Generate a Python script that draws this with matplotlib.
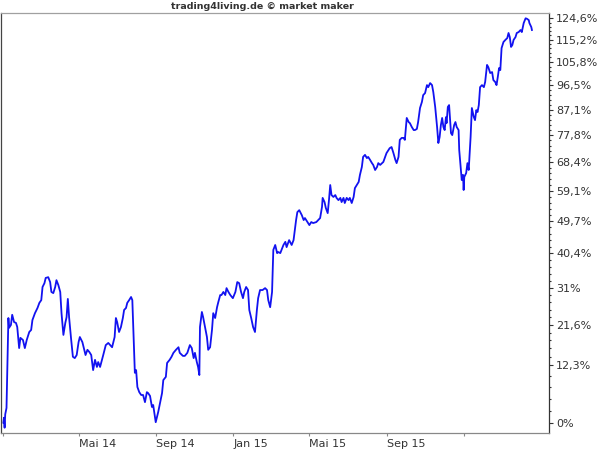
import numpy as np
import pandas as pd
import matplotlib
matplotlib.use('Agg')
import matplotlib.pyplot as plt
import matplotlib.ticker as mticker

# days since 2014-01-01 and performance in % relative to start
days = [
    1, 2, 3, 4, 6, 8, 9, 10, 13, 15,
    18, 21, 23, 26, 28, 32, 35, 38, 42, 45,
    47, 51, 55, 58, 61, 63, 66, 68, 72, 75,
    77, 80, 83, 85, 88, 91, 93, 96, 99, 101,
    103, 105, 108, 111, 114, 117, 120, 122, 126, 129,
    131, 134, 137, 140, 143, 146, 149, 151, 154, 157,
    159, 163, 167, 170, 173, 177, 179, 181, 184, 187,
    190, 192, 195, 197, 200, 203, 205, 207, 209, 211,
    213, 216, 219, 222, 225, 228, 230, 233, 236, 238,
    242, 246, 252, 254, 258, 260, 264, 267, 270, 274,
    278, 280, 285, 288, 292, 296, 299, 302, 304, 307,
    309, 311, 312, 315, 317, 320, 323, 325, 328, 331,
    333, 336, 339, 341, 344, 346, 349, 352, 354, 357,
    360, 364, 368, 371, 374, 377, 380, 382, 385, 388,
    390, 393, 396, 399, 402, 404, 407, 411, 415, 418,
    420, 423, 426, 428, 431, 434, 436, 439, 444, 447,
    449, 453, 457, 460, 462, 464, 466, 469, 473, 476,
    478, 482, 485, 488, 491, 496, 499, 502, 505, 506,
    509, 511, 514, 516, 518, 520, 523, 526, 528, 531,
    534, 536, 539, 541, 544, 547, 549, 552, 555, 557,
    560, 563, 565, 568, 570, 573, 576, 578, 581, 584,
    586, 589, 592, 594, 597, 602, 607, 612, 615, 618,
    621, 623, 626, 628, 631, 634, 636, 639, 642, 644,
    647, 650, 652, 655, 657, 660, 663, 665, 668, 671,
    673, 676, 679, 681, 684, 687, 689, 691, 693, 695,
    697, 699, 701, 702, 704, 706, 709, 711, 714, 716,
    718, 721, 722, 725, 726, 728, 729, 730, 733, 735,
    737, 740, 742, 745, 747, 749, 751, 753, 755, 758,
    761, 763, 766, 768, 771, 774, 776, 779, 781, 783,
    785, 787, 789, 792, 795, 798, 800, 802, 804, 806,
    808, 811, 813, 816, 819, 821, 824, 827, 829, 832,
    833, 836, 837,
]
values = [
    0.0, 1.0, -1.0, 1.7, 3.0, 15.7, 23.3, 20.9, 21.6, 24.1,
    22.3, 22.1, 21.1, 16.1, 18.5, 18.0, 16.1, 18.0, 19.9, 20.4,
    22.8, 24.5, 25.8, 27.1, 27.8, 31.2, 32.2, 33.6, 33.8, 32.5,
    29.9, 29.6, 31.2, 33.0, 31.7, 29.9, 24.5, 19.2, 22.1, 23.5,
    28.1, 23.5, 18.5, 14.1, 13.8, 14.5, 17.5, 18.7, 17.5, 15.7,
    14.5, 15.7, 15.2, 14.5, 11.1, 13.4, 11.8, 12.9, 11.8, 13.4,
    14.5, 16.8, 17.3, 16.8, 16.3, 18.7, 23.3, 22.3, 19.9, 21.1,
    23.3, 25.3, 25.8, 27.1, 27.8, 28.6, 27.8, 18.7, 10.5, 11.1,
    7.4, 6.3, 5.7, 5.7, 4.2, 6.3, 6.1, 5.5, 3.2, 3.6,
    0.1, 2.2, 6.1, 8.9, 9.6, 12.7, 13.4, 14.1, 15.0, 15.7,
    16.3, 15.0, 14.3, 14.3, 15.0, 16.8, 16.1, 13.8, 15.0, 12.9,
    11.8, 10.0, 21.1, 24.8, 23.5, 21.1, 18.7, 15.7, 16.3, 20.4,
    24.5, 23.3, 26.0, 27.3, 29.1, 29.1, 29.9, 29.1, 30.9, 29.9,
    29.1, 28.3, 29.9, 32.5, 32.2, 29.9, 28.3, 29.9, 31.2, 30.4,
    25.3, 23.3, 21.1, 19.9, 25.3, 28.3, 30.4, 30.4, 30.9, 30.4,
    27.8, 26.0, 29.9, 41.3, 42.7, 40.4, 40.7, 40.4, 42.7, 43.6,
    42.1, 44.1, 42.7, 44.1, 47.0, 50.0, 52.4, 53.0, 51.5, 50.0,
    50.6, 49.4, 48.5, 49.4, 49.1, 49.4, 50.0, 50.6, 54.0, 56.8,
    55.5, 53.7, 52.1, 56.1, 60.9, 57.7, 57.1, 57.7, 56.8, 56.1,
    56.8, 55.5, 56.8, 55.2, 56.8, 56.1, 56.8, 55.2, 57.1, 59.9,
    60.9, 61.9, 64.2, 66.8, 70.2, 70.9, 69.8, 70.2, 69.2, 68.1,
    67.5, 65.8, 66.8, 68.1, 67.5, 68.5, 71.5, 73.2, 73.6, 71.5,
    69.2, 68.1, 70.2, 76.1, 76.8, 76.8, 76.1, 84.0, 82.5, 82.1,
    80.7, 79.6, 79.6, 80.0, 82.5, 87.7, 90.0, 92.6, 93.4, 96.5,
    95.7, 97.3, 96.5, 93.8, 88.1, 80.7, 75.0, 77.1, 81.4, 84.0,
    80.7, 79.6, 84.3, 82.1, 88.1, 88.8, 78.5, 77.8, 81.4, 82.5,
    80.7, 79.6, 72.6, 64.8, 62.5, 64.2, 59.3, 63.5, 64.8, 68.1,
    65.8, 77.1, 87.7, 84.4, 83.2, 86.9, 86.2, 88.8, 95.7, 96.5,
    95.7, 97.7, 104.6, 103.7, 101.3, 101.7, 98.5, 97.7, 96.5, 99.7,
    103.3, 102.5, 111.6, 114.2, 115.1, 115.9, 118.1, 116.3, 112.1, 112.9,
    115.1, 116.3, 118.1, 118.5, 119.4, 118.5, 122.5, 124.6, 124.4, 123.8,
    122.5, 120.7, 119.4,
]

pct_ticks = [0, 12.3, 21.6, 31, 40.4, 49.7, 59.1, 68.4, 77.8, 87.1, 96.5, 105.8, 115.2, 124.6]
pct_labels = ['0%', '12,3%', '21,6%', '31%', '40,4%', '49,7%', '59,1%', '68,4%',
              '77,8%', '87,1%', '96,5%', '105,8%', '115,2%', '124,6%']
month_ticks = ['2014-01-01', '2014-05-01', '2014-09-01', '2015-01-01',
               '2015-05-01', '2015-09-01', '2016-01-01']
month_labels = ['', 'Mai 14', 'Sep 14', 'Jan 15', 'Mai 15', 'Sep 15', '']

start = pd.Timestamp('2014-01-01')
dates = start + pd.to_timedelta(days, unit='D')
ratio = 1 + np.array(values) / 100

TXT = '#333333'

fig = plt.figure(figsize=(6, 4.5), dpi=100)
ax = fig.add_axes([1 / 600, 17 / 450, 548 / 600, 420 / 450])
ax.plot(dates, ratio, color='#1212f0', lw=1.3, solid_joinstyle='round')

ax.set_yscale('log')
ax.set_ylim(0.9796, 2.270)
ax.set_xlim(start - pd.Timedelta(days=2.7), start + pd.Timedelta(days=864))

# y axis on the right, log scaled, labels in percent
major = [1 + t / 100 for t in pct_ticks]
minor = []
for a, b in zip(major[:-1], major[1:]):
    minor += list(np.linspace(a, b, 6)[1:-1])
ax.yaxis.tick_right()
ax.set_yticks(major)
ax.set_yticklabels(pct_labels)
ax.set_yticks(minor, minor=True)
ax.yaxis.set_minor_formatter(mticker.NullFormatter())
ax.tick_params(axis='y', which='major', length=3, width=0.8, color=TXT,
               labelsize=8, labelcolor=TXT, pad=2)
ax.tick_params(axis='y', which='minor', length=1.6, width=0.8, color=TXT)

ax.set_xticks(pd.to_datetime(month_ticks))
ax.set_xticklabels(month_labels, ha='left')
ax.tick_params(axis='x', length=2.5, width=0.8, color='#888888',
               labelsize=8, labelcolor=TXT, pad=2)

for side, col in [('left', '#444444'), ('top', '#a0a0a0'),
                  ('bottom', '#888888'), ('right', '#333333')]:
    ax.spines[side].set_color(col)
    ax.spines[side].set_linewidth(0.9)

fig.text(262 / 600, 1 - 6.5 / 450, 'trading4living.de \u00a9 market maker',
         ha='center', va='center', fontsize=6.8, fontweight='bold', color=TXT)

fig.savefig('out.png', dpi=100, facecolor='white')
